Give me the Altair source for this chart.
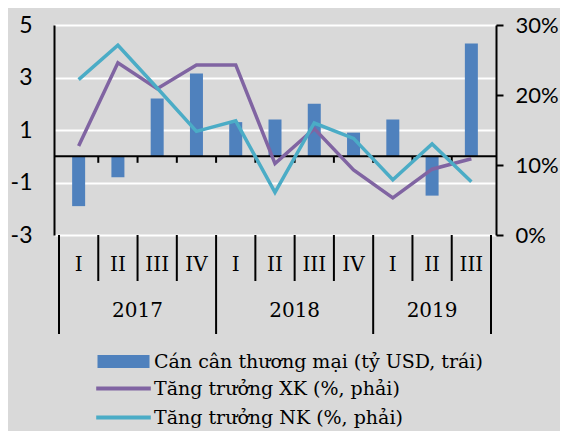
import altair as alt
import pandas as pd

# ---------------- data ----------------
quarters = ["I", "II", "III", "IV", "I", "II", "III", "IV", "I", "II", "III"]
years = ["2017"] * 4 + ["2018"] * 4 + ["2019"] * 3
balance = [-1.9, -0.8, 2.2, 3.15, 1.3, 1.4, 2.0, 0.9, 1.4, -1.5, 4.3]      # ty USD
xk_growth = [12.7, 24.6, 20.9, 24.3, 24.3, 10.2, 15.2, 9.3, 5.3, 9.4, 10.9]  # %
nk_growth = [22.2, 27.1, 21.0, 14.8, 16.3, 6.1, 16.0, 13.8, 7.9, 13.0, 7.6]  # %

name_bal = "Cán cân thương mại (tỷ USD, trái)"
name_xk = "Tăng trưởng XK (%, phải)"
name_nk = "Tăng trưởng NK (%, phải)"
bar_color = "#4F81BD"
line_names = [name_xk, name_nk]
line_colors = ["#8064A2", "#4BACC6"]

left_ticks = [-3, -1, 1, 3, 5]
right_ticks = [0, 0.1, 0.2, 0.3]

SERIF = "DejaVu Serif"
SANS = "Lato"

# ---------------- tables ----------------
n = len(quarters)
idx = list(range(n))
bars_df = pd.DataFrame({"i": idx, "q": quarters, "year": years, "v": balance, "series": name_bal})
lines_df = pd.concat([
    pd.DataFrame({"i": idx, "v": [x / 100 for x in xk_growth], "series": name_xk}),
    pd.DataFrame({"i": idx, "v": [x / 100 for x in nk_growth], "series": name_nk}),
], ignore_index=True)

inner = [i + 0.5 for i in idx[:-1]]
ticks_df = pd.DataFrame({"b": inner, "y0": 0.0, "y1": -0.25})
year_b = [-0.5] + [i + 0.5 for i in idx[:-1] if years[i] != years[i + 1]] + [n - 0.5]
qsep_df = pd.DataFrame({"b": [b for b in inner if b not in year_b]})
ysep_df = pd.DataFrame({"b": year_b})
ylab_df = bars_df.groupby("year", as_index=False)["i"].mean()
zero_df = pd.DataFrame({"v": [0.0]})

# ---------------- scales / axes ----------------
x_scale = alt.Scale(domain=[-0.5, n - 0.5], nice=False, zero=False)
left_scale = alt.Scale(domain=[-3, 5], nice=False, zero=False)
right_scale = alt.Scale(domain=[0, 0.3], nice=False, zero=False)

left_axis = alt.Axis(values=left_ticks, grid=True, gridColor="white", gridWidth=2,
                     domainColor="black", domainWidth=2, ticks=False, tickSize=0,
                     labelPadding=22, labelFont=SANS, labelFontSize=23, labelColor="black",
                     labelExpr="'' + datum.value", title=None)
right_axis = alt.Axis(orient="right", values=right_ticks, format=".0%", grid=False,
                      domainColor="black", domainWidth=2, tickColor="black", tickWidth=2,
                      tickSize=7, labelPadding=12, labelFont=SANS, labelFontSize=22,
                      labelColor="black", title=None)

def X(field):
    return alt.X(field, type="quantitative", scale=x_scale, axis=None)

def YL(field):
    return alt.Y(field, type="quantitative", scale=left_scale, axis=left_axis)

leg_common = dict(title=None, orient="none", direction="vertical", symbolSize=169,
                  labelFont=SERIF, labelFontSize=19, labelColor="black", labelLimit=0,
                  labelOffset=21, rowPadding=9, padding=0, legendX=60)
bar_legend = alt.Legend(legendY=327, symbolType="M-4,-1H4V1H-4Z", symbolStrokeWidth=0,
                        symbolOpacity=1, **leg_common)
line_legend = alt.Legend(legendY=354, symbolType="M-4.2,0H4.2", symbolStrokeWidth=4,
                         symbolOpacity=1, **leg_common)

# ---------------- layers ----------------
bars = alt.Chart(bars_df).mark_bar(size=13).encode(
    x=X("i"), y=YL("v"),
    color=alt.Color("series:N", scale=alt.Scale(domain=[name_bal], range=[bar_color]), legend=bar_legend))
zero_rule = alt.Chart(zero_df).mark_rule(color="black", strokeWidth=2).encode(y=YL("v"))
zero_ticks = alt.Chart(ticks_df).mark_rule(color="black", strokeWidth=2).encode(
    x=X("b"), y=YL("y0"), y2="y1")
qsep = alt.Chart(qsep_df).mark_rule(color="black", strokeWidth=2).encode(
    x=X("b"), y=alt.value(210), y2=alt.value(256))
ysep = alt.Chart(ysep_df).mark_rule(color="black", strokeWidth=2).encode(
    x=X("b"), y=alt.value(210), y2=alt.value(309))
qlabels = alt.Chart(bars_df).mark_text(font=SERIF, fontSize=20, color="black", baseline="middle").encode(
    x=X("i"), y=alt.value(240), text="q:N")
ylabels = alt.Chart(ylab_df).mark_text(font=SERIF, fontSize=20, color="black", baseline="middle").encode(
    x=X("i"), y=alt.value(286), text="year:N")

left = alt.layer(bars, zero_rule, zero_ticks, qsep, ysep, qlabels, ylabels)

lines = alt.Chart(lines_df).mark_line(strokeWidth=3.5).encode(
    x=X("i"),
    y=alt.Y("v", type="quantitative", scale=right_scale, axis=right_axis),
    stroke=alt.Stroke("series:N", scale=alt.Scale(domain=line_names, range=line_colors), legend=line_legend),
)

chart = alt.layer(left, lines).resolve_scale(y="independent").properties(
    width=442, height=210,
    autosize=alt.AutoSizeParams(type="none"),
    padding={"left": 46, "top": 17, "right": 64, "bottom": 196},
).configure(background="#D9D9D9").configure_view(strokeWidth=0)

chart.save("out.html", embed_options={"renderer": "svg", "actions": False})
